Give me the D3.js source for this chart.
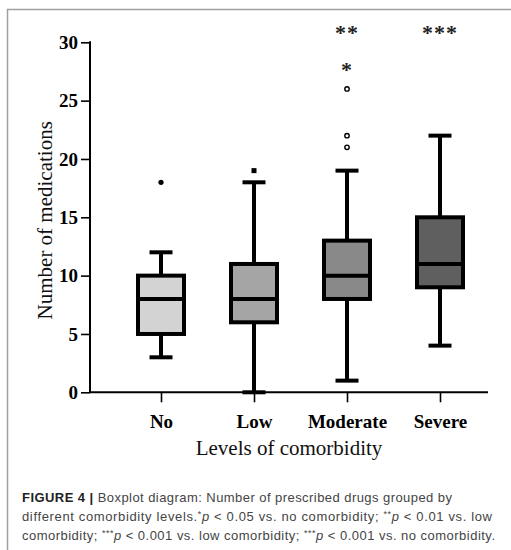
<!DOCTYPE html>
<html><head><meta charset="utf-8">
<script src="https://cdn.jsdelivr.net/npm/d3@7"></script>
<style>body{margin:0;background:#fff}svg{display:block}</style>
</head><body>
<script>
const categories = ["No", "Low", "Moderate", "Severe"];
const mins    = [3, 0, 1, 4];
const q1s     = [5, 6, 8, 9];
const medians = [8, 8, 10, 11];
const q3s     = [10, 11, 13, 15];
const maxs    = [12, 18, 19, 22];
const outliers = [[18], [19], [21, 22, 26], []];
const outlierShapes = ["dot", "square", "ring", "ring"];
const fills = ["#d3d3d3", "#a5a5a5", "#898989", "#5f5f5f"];
const stars = [[], [], [{v: 28.0, t: "*"}, {v: 31.2, t: "**"}], [{v: 31.2, t: "***"}]];
const yTicks = [0, 5, 10, 15, 20, 25, 30];

const W = 511, H = 550;
const svg = d3.select("body").append("svg").attr("width", W).attr("height", H);

// frame
svg.append("path").attr("d", `M7.5,${H} V9.5 H${W}`).attr("fill", "none").attr("stroke", "#a0a0a0").attr("stroke-width", 1.5);

const y = d3.scaleLinear().domain([0, 30]).range([392.3, 42.3]);
const x = d3.scalePoint().domain(categories).range([161, 440]);
const axX0 = 90, axX1 = 488;

// y axis
const ya = svg.append("g").attr("transform", `translate(${axX0},0)`)
  .call(d3.axisLeft(y).tickValues(yTicks).tickSize(9).tickPadding(3).tickSizeOuter(0));
ya.select(".domain").remove();
ya.append("line").attr("x1", 0).attr("x2", 0).attr("y1", y(30) - 1).attr("y2", y(0)).attr("stroke", "#000").attr("stroke-width", 2);
ya.selectAll(".tick line").attr("stroke", "#000").attr("stroke-width", 1.6);
ya.selectAll(".tick text").attr("font-family", "Liberation Serif").attr("font-weight", "bold").attr("font-size", 19).attr("fill", "#000");

// x axis
const xa = svg.append("g").attr("transform", `translate(0,${y(0)})`)
  .call(d3.axisBottom(x).tickSize(10).tickPadding(12).tickSizeOuter(0));
xa.select(".domain").remove();
xa.append("line").attr("x1", axX0 - 1).attr("x2", axX1).attr("y1", 0).attr("y2", 0).attr("stroke", "#000").attr("stroke-width", 2);
xa.selectAll(".tick line").attr("stroke", "#000").attr("stroke-width", 1.6);
xa.selectAll(".tick text").attr("font-family", "Liberation Serif").attr("font-weight", "bold").attr("font-size", 19).attr("fill", "#000");

// titles
svg.append("text").attr("x", 289).attr("y", 455).attr("text-anchor", "middle")
  .attr("font-family", "Liberation Serif").attr("font-size", 21).attr("fill", "#111").text("Levels of comorbidity");
svg.append("text").attr("transform", `translate(52,${(y(30)+y(0))/2+3}) rotate(-90)`).attr("text-anchor", "middle")
  .attr("font-family", "Liberation Serif").attr("font-size", 21).attr("fill", "#111").text("Number of medications");

// boxes
const bw = 46, cw = 23, sw = 4;
categories.forEach((c, i) => {
  const g = svg.append("g");
  const cx = x(c);
  g.append("line").attr("x1", cx).attr("x2", cx).attr("y1", y(q3s[i])).attr("y2", y(maxs[i])).attr("stroke", "#000").attr("stroke-width", sw);
  g.append("line").attr("x1", cx).attr("x2", cx).attr("y1", y(q1s[i])).attr("y2", y(mins[i])).attr("stroke", "#000").attr("stroke-width", sw);
  g.append("line").attr("x1", cx - cw/2).attr("x2", cx + cw/2).attr("y1", y(maxs[i])).attr("y2", y(maxs[i])).attr("stroke", "#000").attr("stroke-width", sw);
  g.append("line").attr("x1", cx - cw/2).attr("x2", cx + cw/2).attr("y1", y(mins[i])).attr("y2", y(mins[i])).attr("stroke", "#000").attr("stroke-width", sw);
  g.append("rect").attr("x", cx - bw/2).attr("y", y(q3s[i])).attr("width", bw).attr("height", y(q1s[i]) - y(q3s[i]))
    .attr("fill", fills[i]).attr("stroke", "#000").attr("stroke-width", sw);
  g.append("line").attr("x1", cx - bw/2).attr("x2", cx + bw/2).attr("y1", y(medians[i])).attr("y2", y(medians[i])).attr("stroke", "#000").attr("stroke-width", sw);
  outliers[i].forEach(v => {
    const s = outlierShapes[i];
    if (s === "square") {
      g.append("rect").attr("x", cx - 2.5).attr("y", y(v) - 2.5).attr("width", 5).attr("height", 5).attr("fill", "#000");
    } else if (s === "dot") {
      g.append("circle").attr("cx", cx).attr("cy", y(v)).attr("r", 2.6).attr("fill", "#000");
    } else {
      g.append("circle").attr("cx", cx).attr("cy", y(v)).attr("r", 2.2).attr("fill", "#fff").attr("stroke", "#000").attr("stroke-width", 1.4);
    }
  });
  stars[i].forEach(s => {
    const fs = 22;
    g.append("text").attr("x", cx).attr("y", y(s.v) + fs * 0.52).attr("text-anchor", "middle")
      .attr("font-family", "Liberation Serif").attr("font-weight", "bold").attr("font-size", fs)
      .attr("letter-spacing", 1).attr("fill", "#222").text(s.t);
  });
});

// caption
const cap = svg.append("g").attr("font-family", "Liberation Sans").attr("font-size", 13).attr("fill", "#444");
const l1 = cap.append("text").attr("x", 22).attr("y", 502).attr("textLength", 430).attr("lengthAdjust", "spacing");
l1.append("tspan").attr("font-weight", "bold").attr("fill", "#222").text("FIGURE 4 | ");
l1.append("tspan").text("Boxplot diagram: Number of prescribed drugs grouped by");
const l2 = cap.append("text").attr("x", 22).attr("y", 521).attr("textLength", 470).attr("lengthAdjust", "spacing");
l2.append("tspan").text("different comorbidity levels.");
l2.append("tspan").attr("font-size", 9).attr("dy", -4).text("*");
l2.append("tspan").attr("font-style", "italic").attr("dy", 4).text("p");
l2.append("tspan").text(" < 0.05 vs. no comorbidity; ");
l2.append("tspan").attr("font-size", 9).attr("dy", -4).text("**");
l2.append("tspan").attr("font-style", "italic").attr("dy", 4).text("p");
l2.append("tspan").text(" < 0.01 vs. low");
const l3 = cap.append("text").attr("x", 22).attr("y", 539.5).attr("textLength", 473).attr("lengthAdjust", "spacing");
l3.append("tspan").text("comorbidity; ");
l3.append("tspan").attr("font-size", 9).attr("dy", -4).text("***");
l3.append("tspan").attr("font-style", "italic").attr("dy", 4).text("p");
l3.append("tspan").text(" < 0.001 vs. low comorbidity; ");
l3.append("tspan").attr("font-size", 9).attr("dy", -4).text("***");
l3.append("tspan").attr("font-style", "italic").attr("dy", 4).text("p");
l3.append("tspan").text(" < 0.001 vs. no comorbidity.");
</script>
</body></html>
